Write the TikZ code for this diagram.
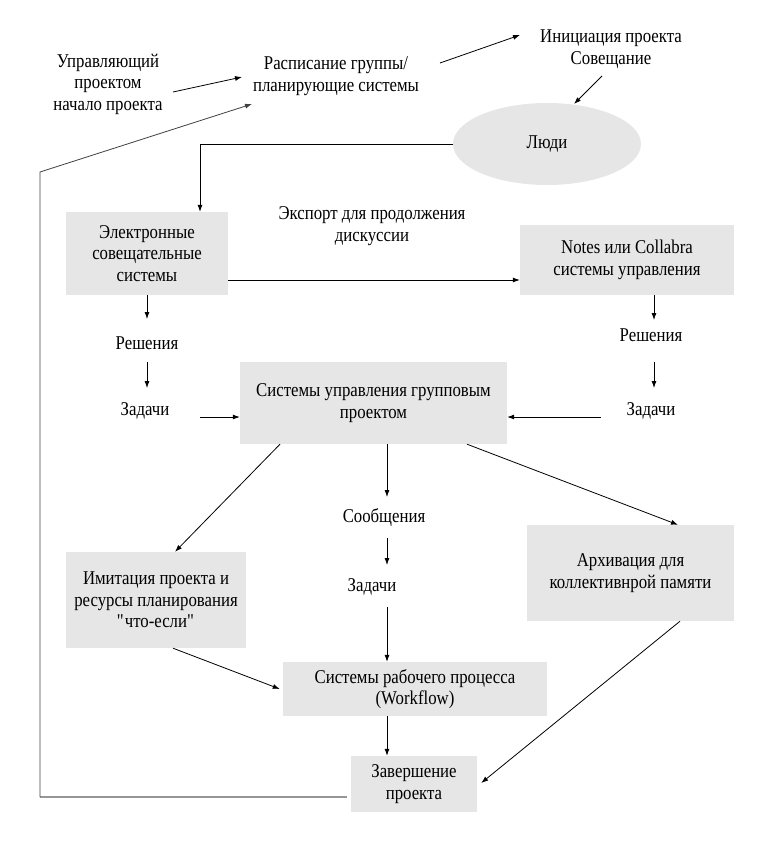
\documentclass[tikz,border=0pt]{standalone}
\usepackage{fontspec}
\setmainfont{Liberation Serif}[FakeStretch=0.86]
\usetikzlibrary{arrows.meta,calc,shapes.geometric}
\definecolor{boxgray}{RGB}{230,230,230}
\definecolor{fbgray}{RGB}{150,150,150}
\tikzset{
  lbl/.style={align=center,inner sep=0pt,font=\rmfamily\fontsize{19.5}{21.5}\selectfont},
  gbox/.style={lbl,rectangle,fill=boxgray,draw=none},
  arr/.style={draw=black,line width=0.8pt,-{Latex[length=7pt,width=5pt]}},
}
\begin{document}
\begin{tikzpicture}[x=1pt,y=-1pt]
\useasboundingbox (0,0) rectangle (773,843);
% text labels
\node[lbl] (mgr) at (108,84) {Управляющий\\проектом\\начало проекта};
\node[lbl] (sched) at (336,76) {Расписание группы/\\планирующие системы};
\node[lbl] (init) at (611,49) {Инициация проекта\\Совещание};
\node[lbl,ellipse,fill=boxgray,minimum width=188pt,minimum height=82pt] (people) at (547,144) {Люди};
\node[gbox,minimum width=162pt,minimum height=83pt] (elec) at (147,253.5) {Электронные\\совещательные\\системы};
\node[lbl] (export) at (372,226) {Экспорт для продолжения\\дискуссии};
\node[gbox,minimum width=214pt,minimum height=70pt] (notes) at (627,260) {Notes или Collabra\\системы управления};
\node[lbl] (dec1) at (147,343) {Решения};
\node[lbl] (task1) at (145,411) {Задачи};
\node[lbl] (dec2) at (651,335) {Решения};
\node[lbl] (task2) at (651,411) {Задачи};
\node[gbox,minimum width=267pt,minimum height=82pt] (gpm) at (373.5,403) {Системы управления групповым\\проектом};
\node[lbl] (msg) at (384,518) {Сообщения};
\node[lbl] (task3) at (372,587) {Задачи};
\node[gbox,minimum width=180pt,minimum height=96pt] (imit) at (156,600) {Имитация проекта и\\ресурсы планирования\\\textquotedbl что-если\textquotedbl};
\node[gbox,minimum width=207pt,minimum height=96pt] (arch) at (630.5,573) {Архивация для\\коллективнрой памяти};
\node[gbox,minimum width=264pt,minimum height=54pt] (wf) at (415,689) {Системы рабочего процесса\\(Workflow)};
\node[gbox,minimum width=126pt,minimum height=56pt] (fin) at (414,784) {Завершение\\проекта};
\coordinate (fbA) at (40,797);
\coordinate (fbB) at (40,172);
% connectors
\draw[arr] ($(mgr.center)+(65,8)$) -- ($(sched.center)+(-94,1)$);
\draw[arr] ($(sched.center)+(104,-13)$) -- ($(init.center)+(-91,-14)$);
\draw[arr] ($(init.center)+(-9,27)$) -- ($(people.center)+(27,-40)$);
\draw[arr] (people.west) -| ($(elec.north)+(53,0)$);
\draw[arr] ($(elec.east)+(0,26.5)$) -- ($(notes.west)+(0,20)$);
\draw[arr] (elec.south) -- ($(dec1.center)+(0,-24)$);
\draw[arr] ($(dec1.center)+(0,19)$) -- ($(task1.center)+(2,-23)$);
\draw[arr] ($(task1.center)+(55,6)$) -- ($(gpm.west)+(0,14)$);
\draw[arr] ($(notes.south)+(27,0)$) -- ($(dec2.center)+(3,-15)$);
\draw[arr] ($(dec2.center)+(3,27)$) -- ($(task2.center)+(3,-23)$);
\draw[arr] ($(task2.center)+(-50,6)$) -- ($(gpm.east)+(0,14)$);
\draw[arr] ($(gpm.south)+(-93.5,0)$) -- ($(imit.north)+(19,0)$);
\draw[arr] ($(gpm.south)+(13.5,0)$) -- ($(msg.center)+(3,-21)$);
\draw[arr] ($(msg.center)+(3,20)$) -- ($(task3.center)+(15,-22)$);
\draw[arr] ($(task3.center)+(15,20)$) -- ($(wf.north)+(-28,0)$);
\draw[arr] ($(gpm.south)+(93.5,0)$) -- ($(arch.north)+(47.5,0)$);
\draw[arr] ($(imit.south)+(17,0)$) -- ($(wf.west)+(-3,0)$);
\draw[arr] ($(arch.south)+(49.5,0)$) -- ($(fin.east)+(4,-1)$);
\draw[arr] ($(wf.south)+(-28,0)$) -- ($(fin.north)+(-27,0)$);
\draw[draw=fbgray,line width=1.4pt] ($(fin.west)+(-4,13)$) -- (fbA);
\draw[arr,draw=black!75] (fbA) -- (fbB) -- ($(sched.center)+(-84,28)$);
\end{tikzpicture}
\end{document}
